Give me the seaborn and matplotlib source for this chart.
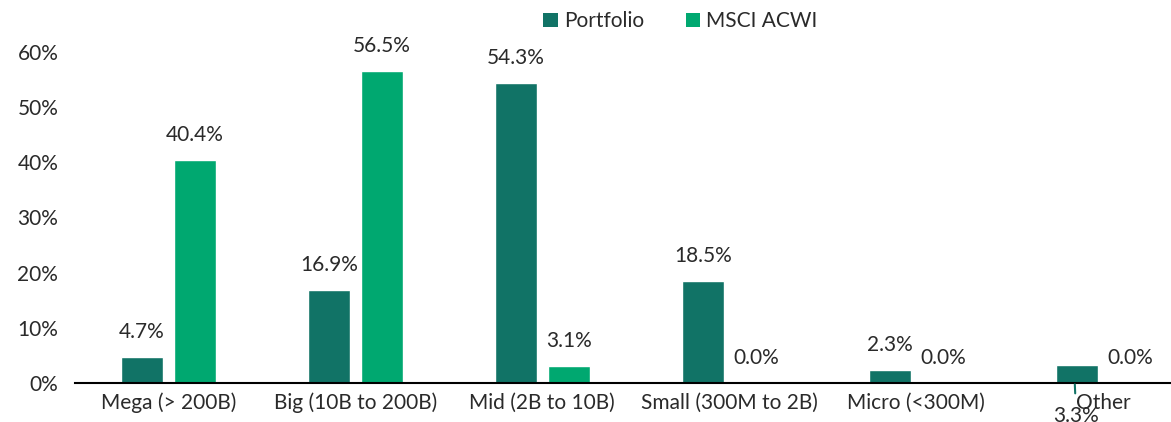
import matplotlib
matplotlib.use("Agg")
import matplotlib.pyplot as plt
import seaborn as sns
import pandas as pd
from matplotlib.patches import Patch

categories = ["Mega (> 200B)", "Big (10B to 200B)", "Mid (2B to 10B)",
              "Small (300M to 2B)", "Micro (<300M)", "Other"]
portfolio = [4.7, 16.9, 54.3, 18.5, 2.3, 3.3]
msci_acwi = [40.4, 56.5, 3.1, 0.0, 0.0, 0.0]
series_names = ["Portfolio", "MSCI ACWI"]
yticks = [0, 10, 20, 30, 40, 50, 60]

colors = {"Portfolio": "#117366", "MSCI ACWI": "#00A870"}

df = pd.DataFrame({
    "category": categories * 2,
    "series": [series_names[0]] * len(categories) + [series_names[1]] * len(categories),
    "value": portfolio + msci_acwi,
})

sns.set_theme(style="white")
plt.rcParams["font.family"] = ["Lato", "DejaVu Sans"]

FS = 15
TC = "#2a2a2a"

fig = plt.figure(figsize=(11.71, 4.22), dpi=100)
ax = fig.add_axes([0.064, 0.0924, 0.958, 0.7844])

sns.barplot(data=df, x="category", y="value", hue="series", order=categories,
            hue_order=series_names, palette=colors, width=0.57, gap=0.21,
            ax=ax, legend=False, saturation=1)

ax.set_xlim(-0.5, 5.5)
ax.set_ylim(0, 60)
ax.set_yticks(yticks)
ax.set_yticklabels([f"{t}%" for t in yticks], fontsize=FS, color=TC)
ax.tick_params(axis="x", labelsize=FS, colors=TC, length=0, pad=7)
ax.tick_params(axis="y", length=0, pad=12)
ax.set_xlabel("")
ax.set_ylabel("")
for s in ["top", "right", "left"]:
    ax.spines[s].set_visible(False)
ax.spines["bottom"].set_color("black")
ax.spines["bottom"].set_linewidth(1.5)

for container, name, vals in zip(ax.containers, series_names, [portfolio, msci_acwi]):
    for i, (bar, v) in enumerate(zip(container, vals)):
        cx = bar.get_x() + bar.get_width() / 2
        if name == "Portfolio" and categories[i] == "Other":
            ax.annotate(f"{v:.1f}%", xy=(cx - 0.01, 0), xytext=(1, -24),
                        textcoords="offset points", ha="center", va="center",
                        fontsize=FS, color=TC,
                        arrowprops=dict(arrowstyle="-", color=colors[name], lw=1.5,
                                        shrinkA=7, shrinkB=1),
                        annotation_clip=False)
        else:
            ax.annotate(f"{v:.1f}%", xy=(cx, v), xytext=(0, 18),
                        textcoords="offset points", ha="center", va="center",
                        fontsize=FS, color=TC)

handles = [Patch(facecolor=colors[n], edgecolor="none") for n in series_names]
fig.legend(handles, series_names, loc="center", bbox_to_anchor=(0.581, 0.95),
           ncol=2, frameon=False, prop={"size": FS},
           handlelength=0.7, handleheight=0.7,
           handletextpad=0.3, columnspacing=2.0, labelcolor=TC)

fig.savefig("out.png", dpi=100)
